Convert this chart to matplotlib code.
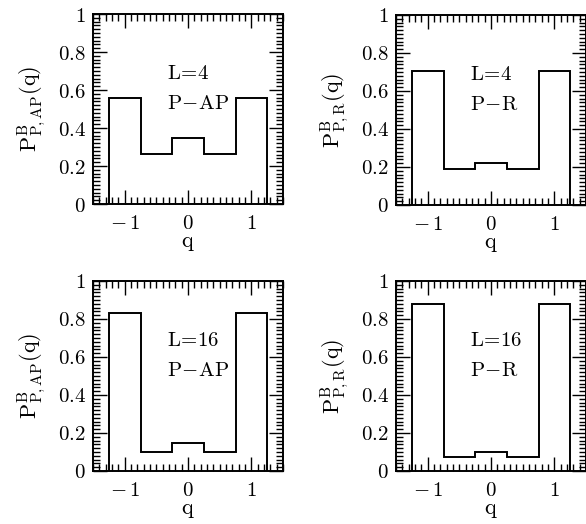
import numpy as np
import matplotlib
matplotlib.use('Agg')
import matplotlib.pyplot as plt
from matplotlib.ticker import MultipleLocator, FuncFormatter

plt.rcParams['mathtext.fontset'] = 'cm'
plt.rcParams['font.family'] = 'serif'

# bin edges in q and the histogram heights
edges = [-1.25, -0.75, -0.25, 0.25, 0.75, 1.25]
l4_ap = [0.56, 0.263, 0.35, 0.263, 0.56]
l4_r = [0.705, 0.188, 0.22, 0.188, 0.705]
l16_ap = [0.83, 0.098, 0.145, 0.098, 0.83]
l16_r = [0.878, 0.076, 0.10, 0.076, 0.878]

panels = [
    (l4_ap, 'L\\!=\\!4', 'P\\!-\\!AP', 'P,AP', [93, 14]),
    (l4_r, 'L\\!=\\!4', 'P\\!-\\!R', 'P,R', [396, 15]),
    (l16_ap, 'L\\!=\\!16', 'P\\!-\\!AP', 'P,AP', [93, 281]),
    (l16_r, 'L\\!=\\!16', 'P\\!-\\!R', 'P,R', [396, 281]),
]

W, H = 586, 524
fig = plt.figure(figsize=(W / 100, H / 100), dpi=100)


def yfmt(v, pos):
    if abs(v) < 1e-9:
        return r'$0$'
    if abs(v - 1) < 1e-9:
        return r'$1$'
    return r'$%.1f$' % v


def xfmt(v, pos):
    n = round(v)
    if n < 0:
        return r'$-\,%d$' % -n
    return r'$%d$' % n


for vals, ltxt, ptxt, sub, (px, py) in panels:
    ax = fig.add_axes([px / W, 1 - (py + 190) / H, 190 / W, 190 / H])
    ax.stairs(vals, edges, baseline=0, color='black', lw=1.4)
    ax.set_xlim(-1.5, 1.5)
    ax.set_ylim(0, 1)
    ax.xaxis.set_major_locator(MultipleLocator(1))
    ax.xaxis.set_minor_locator(MultipleLocator(0.1))
    ax.yaxis.set_major_locator(MultipleLocator(0.2))
    ax.yaxis.set_minor_locator(MultipleLocator(0.02))
    ax.xaxis.set_major_formatter(FuncFormatter(xfmt))
    ax.yaxis.set_major_formatter(FuncFormatter(yfmt))
    ax.tick_params(which='both', direction='in', top=True, right=True,
                   width=1.0, labelsize=15)
    ax.tick_params(which='major', length=10)
    ax.tick_params(which='minor', length=5)
    ax.tick_params(axis='x', pad=7)
    ax.tick_params(axis='y', pad=5)
    for s in ax.spines.values():
        s.set_linewidth(1.4)
    ax.set_xlabel(r'$\mathrm{q}$', fontsize=16, labelpad=-1)
    ax.set_ylabel(r'$\mathrm{P^{B}_{%s}(q)}$' % sub, fontsize=16, labelpad=7)
    ax.text(-0.33, 0.685, r'$\mathrm{%s}$' % ltxt, fontsize=15, ha='left', va='center')
    ax.text(-0.33, 0.53, r'$\mathrm{%s}$' % ptxt, fontsize=15, ha='left', va='center')

fig.savefig('out.png', dpi=100)
